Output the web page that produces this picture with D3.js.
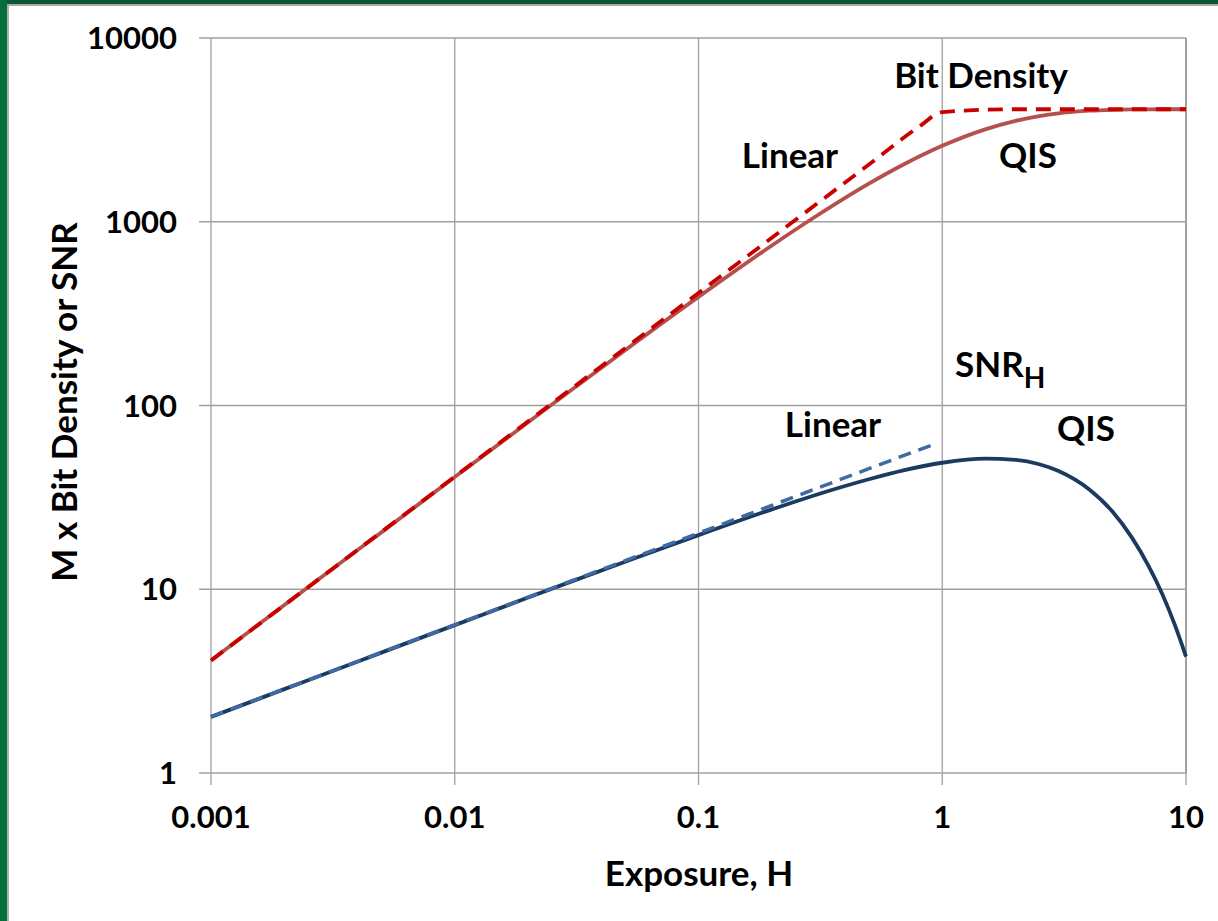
<!DOCTYPE html>
<html>
<head>
<meta charset="utf-8">
<script src="https://cdn.jsdelivr.net/npm/d3@7/dist/d3.min.js"></script>
<style>
  html, body { margin: 0; padding: 0; background: #ffffff; }
  svg { display: block; }
  text { font-family: Lato, "Open Sans", sans-serif; font-weight: bold; fill: #000; }
</style>
</head>
<body>
<svg id="chart" width="1218" height="921"></svg>
<script>
// Exposure H sample points (log spaced)
const exposure = [0.001, 0.002, 0.003, 0.005, 0.01, 0.02, 0.03, 0.05, 0.1, 0.2, 0.3, 0.5, 0.7, 1, 1.5, 2, 2.5, 3, 4, 5, 6, 7, 8, 9, 10];

// M x bit density, QIS (solid) and linear (dashed)
const bitDensityQIS = [4.1, 8.2, 12.3, 20.4, 40.8, 81.1, 121, 200, 390, 743, 1061, 1612, 2062, 2589, 3182, 3542, 3760, 3892, 4021, 4068, 4086, 4092, 4095, 4096, 4096];
const linearBitExposure = [0.001, 0.002, 0.005, 0.01, 0.02, 0.05, 0.1, 0.2, 0.5, 0.8, 1, 2, 5, 10];
const bitDensityLinear = [4.1, 8.2, 20.5, 41, 82, 205, 410, 819, 2048, 3277, 3950, 4096, 4096, 4096];

// SNR_H, QIS (solid) and linear (dashed)
const snrQIS = [2.02, 2.86, 3.50, 4.52, 6.38, 9.01, 11.0, 14.1, 19.7, 27.2, 32.5, 39.7, 44.5, 48.8, 51.4, 50.6, 47.9, 44.0, 35.0, 26.4, 19.1, 13.5, 9.4, 6.4, 4.3];
const linearSnrExposure = [0.001, 0.002, 0.005, 0.01, 0.02, 0.05, 0.1, 0.2, 0.5, 0.9];
const snrLinear = [2.02, 2.86, 4.53, 6.4, 9.05, 14.3, 20.2, 28.6, 45.3, 60.7];

// Axis ticks
const xTicks = [0.001, 0.01, 0.1, 1, 10];
const xTickLabels = ["0.001", "0.01", "0.1", "1", "10"];
const yTicks = [1, 10, 100, 1000, 10000];
const yTickLabels = ["1", "10", "100", "1000", "10000"];

const svg = d3.select("#chart");

// Slide frame: green bars with grey inner edge
svg.append("rect").attr("x", 0).attr("y", 0).attr("width", 1218).attr("height", 5).attr("fill", "#0b5632");
svg.append("rect").attr("x", 0).attr("y", 4).attr("width", 1218).attr("height", 2).attr("fill", "#a8a8a8");
svg.append("rect").attr("x", 0).attr("y", 0).attr("width", 7).attr("height", 921).attr("fill", "#03703b");
svg.append("rect").attr("x", 7).attr("y", 6).attr("width", 2).attr("height", 915).attr("fill", "#b0b0b0");

const x = d3.scaleLog().domain([0.001, 10]).range([211, 1186]);
const y = d3.scaleLog().domain([1, 10000]).range([773, 38]);

const grid = svg.append("g").attr("stroke", "#a0a0a0").attr("stroke-width", 1.3);
grid.selectAll(".vg").data(xTicks).join("line")
  .attr("x1", d => x(d)).attr("x2", d => x(d))
  .attr("y1", y(10000)).attr("y2", y(1) + 12);
grid.selectAll(".hg").data(yTicks).join("line")
  .attr("x1", x(0.001) - 12).attr("x2", x(10))
  .attr("y1", d => y(d)).attr("y2", d => y(d));
// right border of plot area
svg.append("line").attr("x1", x(10)).attr("x2", x(10)).attr("y1", y(10000)).attr("y2", y(1))
  .attr("stroke", "#a0a0a0").attr("stroke-width", 2);

// tick labels
svg.selectAll(".xl").data(xTicks).join("text")
  .attr("x", d => x(d)).attr("y", y(1) + 55)
  .attr("text-anchor", "middle").attr("font-size", 31)
  .text((d, i) => xTickLabels[i]);
svg.selectAll(".yl").data(yTicks).join("text")
  .attr("x", x(0.001) - 34).attr("y", d => y(d) + 11)
  .attr("text-anchor", "end").attr("font-size", 31)
  .text((d, i) => yTickLabels[i]);

// axis titles
svg.append("text").attr("x", 699).attr("y", 886).attr("text-anchor", "middle")
  .attr("font-size", 35).text("Exposure, H");
svg.append("text").attr("transform", "translate(77,402) rotate(-90)")
  .attr("text-anchor", "middle").attr("font-size", 35).text("M x Bit Density or SNR");

const line = d3.line().x(d => x(d[0])).y(d => y(d[1])).curve(d3.curveMonotoneX);
const zip = (a, b) => a.map((v, i) => [v, b[i]]);

const plot = svg.append("g").attr("fill", "none").attr("stroke-linecap", "butt");
plot.append("path").attr("d", line(zip(exposure, bitDensityQIS)))
  .attr("stroke", "#b6504c").attr("stroke-width", 3.8);
plot.append("path").attr("d", line(zip(linearBitExposure, bitDensityLinear)))
  .attr("stroke", "#c80000").attr("stroke-width", 3.8).attr("stroke-dasharray", "15,9");
plot.append("path").attr("d", line(zip(exposure, snrQIS)))
  .attr("stroke", "#1b3a60").attr("stroke-width", 3.8);
plot.append("path").attr("d", line(zip(linearSnrExposure, snrLinear)))
  .attr("stroke", "#3f6aa4").attr("stroke-width", 3.5).attr("stroke-dasharray", "13,8");

// annotations
const notes = svg.append("g").attr("font-size", 35);
notes.append("text").attr("x", 981).attr("y", 88).attr("text-anchor", "middle").text("Bit Density");
notes.append("text").attr("x", 790).attr("y", 168).attr("text-anchor", "middle").text("Linear");
notes.append("text").attr("x", 1028).attr("y", 168).attr("text-anchor", "middle").text("QIS");
notes.append("text").attr("x", 833).attr("y", 437).attr("text-anchor", "middle").text("Linear");
notes.append("text").attr("x", 1086).attr("y", 441).attr("text-anchor", "middle").text("QIS");
const snr = notes.append("text").attr("x", 955).attr("y", 377);
snr.append("tspan").text("SNR");
snr.append("tspan").attr("font-size", 28).attr("dy", 11).text("H");
</script>
</body>
</html>
